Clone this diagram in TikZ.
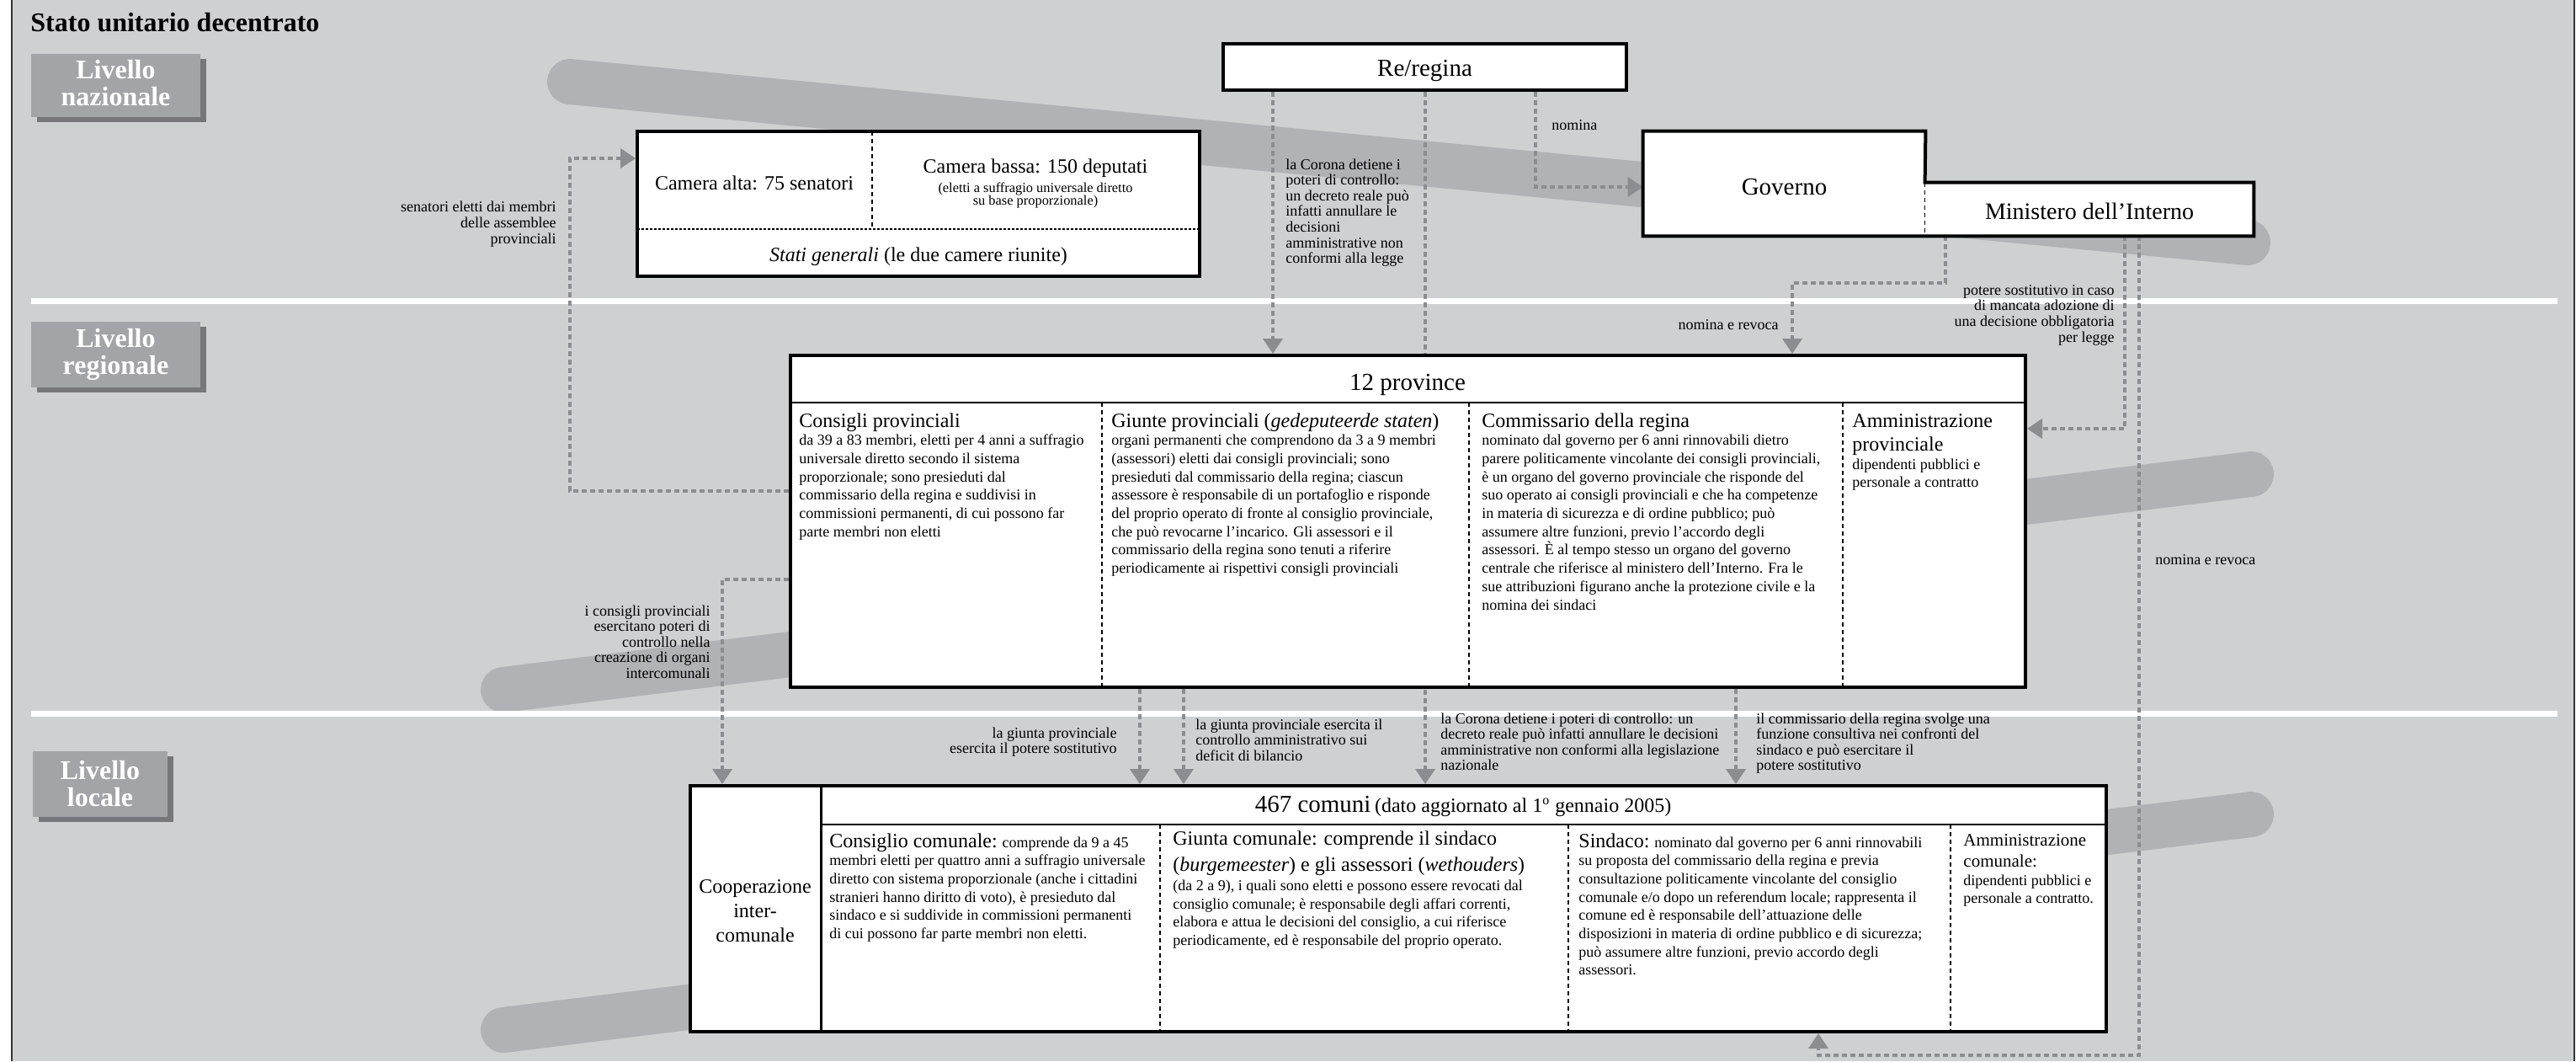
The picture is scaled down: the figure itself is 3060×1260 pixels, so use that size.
\documentclass[tikz,border=0pt]{standalone}
\usepackage{fontspec}
\setmainfont{Liberation Serif}
\usetikzlibrary{arrows.meta,positioning,fit,shadows,calc}
\pgfdeclarelayer{bg}
\pgfsetlayers{bg,main}
\usepackage{xcolor}
\definecolor{bggray}{HTML}{CFD0D2}
\definecolor{bandgray}{HTML}{B1B2B5}
\definecolor{lvlgray}{HTML}{A3A4A8}
\definecolor{lvlshadow}{HTML}{77777B}
\definecolor{conngray}{HTML}{8C8D90}
\newcommand{\hdr}{\fontsize{12}{14}\selectfont}
\newcommand{\hdrs}{\fontsize{10.5}{12}\selectfont}
\newcommand{\boxfont}{\fontsize{14.5}{16}\selectfont}

\begin{document}
\begin{tikzpicture}[
  x=0.5pt, y=-0.5pt,
  font=\fontsize{9}{10.85}\selectfont,
  box/.style={draw, fill=white, line width=2pt, inner sep=0pt},
  level/.style={fill=lvlgray, inner sep=0pt,
    drop shadow={shadow xshift=3.5pt, shadow yshift=-3pt, fill=lvlshadow, opacity=1}},
  leveltext/.style={text=white, align=center, inner sep=0pt,
    font=\bfseries\fontsize{16}{16}\selectfont},
  band/.style={bandgray, line width=27pt, line cap=round},
  sepline/.style={white, line width=3.5pt},
  conn/.style={conngray, line width=2pt, dash pattern=on 3pt off 2pt,
    -{Triangle[length=9pt, width=11.5pt]}},
  cell/.style={anchor=base west, align=left, inner sep=0pt},
  lbl/.style={inner sep=0pt, font=\fontsize{9}{9.3}\selectfont},
  vdash/.style={line width=0.8pt, dash pattern=on 2.5pt off 2pt},
  hdots/.style={line width=0.9pt, dash pattern=on 1.5pt off 1pt},
  hrule/.style={line width=1.3pt}
]

% page and background bands
\useasboundingbox (0,0) rectangle (3060,1260);
\begin{pgfonlayer}{bg}
\fill[white] (0,0) rectangle (3060,1260);
\fill[bggray] (14,0) rectangle (3058,1260);
\draw[line width=1.2pt, black!80] (14,0) -- (14,1260) (3058,0) -- (3058,1260);
\draw[band] (677,97) -- (2670,288);
\draw[band] (598,819) -- (2674,563);
\draw[band] (598,1223) -- (2674,967);
\draw[sepline] (37,357) -- (3038,357);
\draw[sepline] (37,847) -- (3038,847);
\end{pgfonlayer}

\node[anchor=base west, inner sep=0pt, font=\bfseries\fontsize{16}{18}\selectfont] (title) at (36,37) {Stato unitario decentrato};

% levels
\node[level, fit={(37,64) (238,139)}] (naz) {};
\node[leveltext] at ([yshift=1.5pt]naz.center) {Livello\\nazionale};
\node[level, fit={(37,382) (238,460)}] (reg) {};
\node[leveltext] at (reg.center) {Livello\\regionale};
\node[level, fit={(39,892) (199,970)}] (loc) {};
\node[leveltext] at (loc.center) {Livello\\locale};

% national level
\node[box, fit={(1453,52) (1932,107)}] (re) {};
\node[font=\boxfont] (retext) at ([yshift=-2.5pt]re.center) {Re/regina};
\node[box, fit={(757,156) (1425,328)}] (cam) {};
\draw[hdots] (757,272) -- (1425,272);
\draw[vdash] (1036,156) -- (1036,272);
\node[font=\hdr] (alta) at (896,217) {Camera alta: 75 senatori};
\node[align=center, font=\fontsize{8.2}{7.8}\selectfont] (bassa) at (1230,218)
  {{\hdr Camera bassa: 150 deputati}\\[2pt](eletti a suffragio universale diretto\\su base proporzionale)};
\node[font=\hdr] (stati) at (1091,305) {\textit{Stati generali} (le due camere riunite)};

\node[fill=white, inner sep=0pt, fit={(1952,156) (2287,280)}] (gov) {};
\node[fill=white, inner sep=0pt, fit={(2287,217) (2677,280)}] (min) {};
\draw[line width=2pt] (gov.north west) -- (gov.north east) -- (min.north west) -- (min.north east)
  -- (min.south east) -- (gov.south west) -- cycle;
\draw[vdash] (min.north west) -- (min.south west);
\node[font=\boxfont] (govtext) at ([yshift=-2pt]gov.center) {Governo};
\node[font=\fontsize{14}{16}\selectfont] (mintext) at ([yshift=-1pt]min.center) {Ministero dell’Interno};

% regional level
\node[box, fit={(939,422) (2406,816)}] (prov) {};
\draw[hrule] (939,478) -- (2406,478);
\draw[vdash] (1309,478) -- (1309,816);
\draw[vdash] (1745,478) -- (1745,816);
\draw[vdash] (2189,478) -- (2189,816);
\node[font=\boxfont] (provhdr) at (1672,457) {12 province};

\node[cell] (consprov) at (949,637.2) {{\hdr Consigli provinciali}\\
da 39 a 83 membri, eletti per 4 anni a suffragio\\
universale diretto secondo il sistema\\
proporzionale; sono presieduti dal\\
commissario della regina e suddivisi in\\
commissioni permanenti, di cui possono far\\
parte membri non eletti};
\node[cell] (giuprov) at (1320,680.6) {{\hdr Giunte provinciali (\textit{gedeputeerde staten})}\\
organi permanenti che comprendono da 3 a 9 membri\\
(assessori) eletti dai consigli provinciali; sono\\
presieduti dal commissario della regina; ciascun\\
assessore è responsabile di un portafoglio e risponde\\
del proprio operato di fronte al consiglio provinciale,\\
che può revocarne l’incarico. Gli assessori e il\\
commissario della regina sono tenuti a riferire\\
periodicamente ai rispettivi consigli provinciali};
\node[cell] (commreg) at (1760,724) {{\hdr Commissario della regina}\\
nominato dal governo per 6 anni rinnovabili dietro\\
parere politicamente vincolante dei consigli provinciali,\\
è un organo del governo provinciale che risponde del\\
suo operato ai consigli provinciali e che ha competenze\\
in materia di sicurezza e di ordine pubblico; può\\
assumere altre funzioni, previo l’accordo degli\\
assessori. È al tempo stesso un organo del governo\\
centrale che riferisce al ministero dell’Interno. Fra le\\
sue attribuzioni figurano anche la protezione civile e la\\
nomina dei sindaci};
\node[cell] (ammprov) at (2200,578.8) {{\hdr Amministrazione}\\[3.15pt]{\hdr provinciale}\\[0.2pt]
dipendenti pubblici e\\personale a contratto};

% local level
\node[box, fit={(820,933) (2502,1225)}] (com) {};
\draw[line width=1.5pt] (975,933) -- (975,1225);
\draw[hrule] (975,979) -- (2502,979);
\draw[vdash] (1378,979) -- (1378,1225);
\draw[vdash] (1863,979) -- (1863,1225);
\draw[vdash] (2317,979) -- (2317,1225);
\node (comhdr) at (1738,957) {{\boxfont 467 comuni} {\hdr (dato aggiornato al 1\textsuperscript{o} gennaio 2005)}};
\node[align=center, font=\fontsize{12}{14.5}\selectfont] (coop) at (897,1082) {Cooperazione\\inter-\\comunale};

\node[cell] (conscom) at (985,1114.5) {{\hdr Consiglio comunale:} comprende da 9 a 45\\
membri eletti per quattro anni a suffragio universale\\
diretto con sistema proporzionale (anche i cittadini\\
stranieri hanno diritto di voto), è presieduto dal\\
sindaco e si suddivide in commissioni permanenti\\
di cui possono far parte membri non eletti.};
\node[cell] (giucom) at (1393,1122.4) {{\hdr Giunta comunale: comprende il sindaco}\\[3.15pt]
{\hdr (\textit{burgemeester}) e gli assessori (\textit{wethouders})}\\[0.8pt]
(da 2 a 9), i quali sono eletti e possono essere revocati dal\\
consiglio comunale; è responsabile degli affari correnti,\\
elabora e attua le decisioni del consiglio, a cui riferisce\\
periodicamente, ed è responsabile del proprio operato.};
\node[cell] (sindaco) at (1875,1157.9) {{\hdr Sindaco:} nominato dal governo per 6 anni rinnovabili\\
su proposta del commissario della regina e previa\\
consultazione politicamente vincolante del consiglio\\
comunale e/o dopo un referendum locale; rappresenta il\\
comune ed è responsabile dell’attuazione delle\\
disposizioni in materia di ordine pubblico e di sicurezza;\\
può assumere altre funzioni, previo accordo degli\\
assessori.};
\node[cell] (ammcom) at (2332,1072.8) {{\hdrs Amministrazione}\\[1.65pt]{\hdrs comunale:}\\[0.2pt]
dipendenti pubblici e\\personale a contratto.};

% labels (anchored on the baseline of their last line)
\node[lbl, anchor=base east, align=right, font=\fontsize{9}{9.5}\selectfont] (lsen) at (661,289)
  {senatori eletti dai membri\\delle assemblee\\provinciali};
\node[lbl, anchor=base east, align=right] (linterc) at (844,805.4)
  {i consigli provinciali\\esercitano poteri di\\controllo nella\\creazione di organi\\intercomunali};
\node[lbl, anchor=base west, align=left] (lcorona) at (1527,312.6)
  {la Corona detiene i\\poteri di controllo:\\un decreto reale può\\infatti annullare le\\decisioni\\amministrative non\\conformi alla legge};
\node[lbl, anchor=base west] (lnomina) at (1843,154) {nomina};
\node[lbl, anchor=base east] (lnomrev) at (2113,391) {nomina e revoca};
\node[lbl, anchor=base east, align=right] (lsost) at (2512,406)
  {potere sostitutivo in caso\\di mancata adozione di\\una decisione obbligatoria\\per legge};
\node[lbl, anchor=base west] (lnomrev2) at (2560,670) {nomina e revoca};
\node[lbl, anchor=base east, align=right] (lgiunta) at (1327,894.6)
  {la giunta provinciale\\esercita il potere sostitutivo};
\node[lbl, anchor=base west, align=left] (lbilancio) at (1420,903.2)
  {la giunta provinciale esercita il\\controllo amministrativo sui\\deficit di bilancio};
\node[lbl, anchor=base west, align=left] (lcorona2) at (1711,914.8)
  {la Corona detiene i poteri di controllo: un\\decreto reale può infatti annullare le decisioni\\amministrative non conformi alla legislazione\\nazionale};
\node[lbl, anchor=base west, align=left] (lcommiss) at (2086,914.8)
  {il commissario della regina svolge una\\funzione consultiva nei confronti del\\sindaco e può esercitare il\\potere sostitutivo};

% connectors
\coordinate (corA) at (1512,0);
\coordinate (corB) at (1693,0);
\coordinate (giuA) at (1354,0);
\coordinate (giuB) at (1406,0);
\coordinate (commX) at (2062,0);
\coordinate (nomgov) at (1824,222);
\coordinate (senlow) at (677,583);
\coordinate (senup) at (677,188);
\coordinate (icbend) at (858,688);
\coordinate (minA) at (2311,336);
\coordinate (minbend) at (2129,336);
\coordinate (sostbend) at (2524,509);
\coordinate (nrbend) at (2541,1253);
\coordinate (nrend) at (2160,1253);

\begin{pgfonlayer}{bg}
\draw[conn] (re.south -| corA) -- (prov.north -| corA);
\draw[conn] (re.south -| corB) -- (com.north -| corB);
\draw[conn] (re.south -| nomgov) |- (gov.west |- nomgov);
\draw[conn] (prov.west |- senlow) -- (senlow) -- (senup) -- (cam.west |- senup);
\draw[conn] (prov.west |- icbend) -| (com.north -| icbend);
\draw[conn] (min.south -| minA) -- (minA) -- (minbend) -- (prov.north -| minbend);
\draw[conn] (min.south -| sostbend) |- (prov.east |- sostbend);
\draw[conn] (min.south -| nrbend) -- (nrbend) -- (nrend) -- (com.south -| nrend);
\draw[conn] (prov.south -| giuA) -- (com.north -| giuA);
\draw[conn] (prov.south -| giuB) -- (com.north -| giuB);
\draw[conn] (prov.south -| commX) -- (com.north -| commX);
\end{pgfonlayer}

\end{tikzpicture}
\end{document}
